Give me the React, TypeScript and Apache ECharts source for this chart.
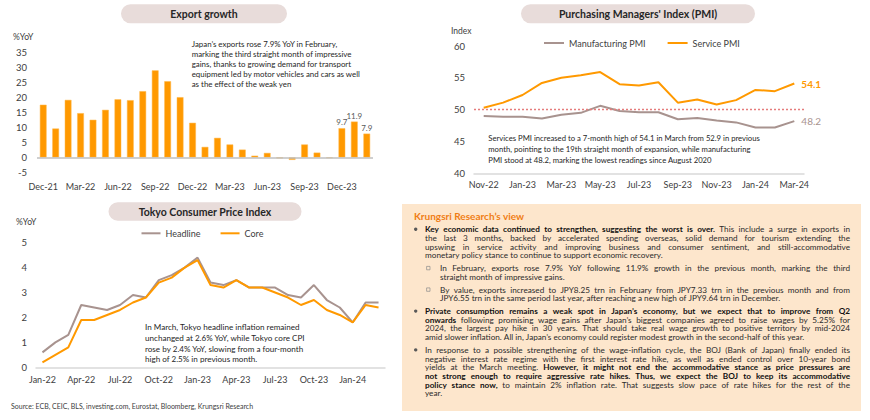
import React, { useEffect, useRef } from "react";
import * as echarts from "echarts";

const FAMILY = "Lato, 'Noto Sans', sans-serif";
const ORANGE = "#FF9900";
const TAUPE = "#A8938F";
const DARK = "#262626";
const AXIS_TXT = "#404040";
const THRESHOLD_RED = "#E57C7C";

// ---------- Export growth ----------
const exportMonths = [
  "Dec-21", "Jan-22", "Feb-22", "Mar-22", "Apr-22", "May-22", "Jun-22", "Jul-22", "Aug-22",
  "Sep-22", "Oct-22", "Nov-22", "Dec-22", "Jan-23", "Feb-23", "Mar-23", "Apr-23", "May-23",
  "Jun-23", "Jul-23", "Aug-23", "Sep-23", "Oct-23", "Nov-23", "Dec-23", "Jan-24", "Feb-24",
];
const exportGrowth = [
  17.5, 9.6, 19.1, 14.7, 12.5, 15.8, 19.3, 19.0, 22.0,
  28.9, 25.3, 20.0, 11.5, 3.5, 6.5, 4.3, 2.6, 0.6,
  1.5, -0.3, -0.8, 4.3, 1.6, -0.2, 9.7, 11.9, 7.9,
];
const exportLabelledFrom = 24;

// ---------- PMI ----------
const pmiMonths = [
  "Nov-22", "Dec-22", "Jan-23", "Feb-23", "Mar-23", "Apr-23", "May-23", "Jun-23", "Jul-23",
  "Aug-23", "Sep-23", "Oct-23", "Nov-23", "Dec-23", "Jan-24", "Feb-24", "Mar-24",
];
const manufacturingPmi = [49.0, 48.9, 48.9, 48.6, 49.2, 49.5, 50.6, 49.8, 49.6, 49.6, 48.5, 48.7, 48.3, 48.0, 47.2, 47.2, 48.2];
const servicePmi = [50.3, 51.1, 52.3, 54.2, 55.0, 55.4, 55.9, 54.0, 53.8, 54.3, 51.1, 51.6, 50.8, 51.5, 53.1, 52.9, 54.1];
const pmiThreshold = 50;

// ---------- Tokyo CPI ----------
const cpiMonths = [
  "Jan-22", "Feb-22", "Mar-22", "Apr-22", "May-22", "Jun-22", "Jul-22", "Aug-22", "Sep-22",
  "Oct-22", "Nov-22", "Dec-22", "Jan-23", "Feb-23", "Mar-23", "Apr-23", "May-23", "Jun-23",
  "Jul-23", "Aug-23", "Sep-23", "Oct-23", "Nov-23", "Dec-23", "Jan-24", "Feb-24", "Mar-24",
];
const cpiHeadline = [0.6, 1.0, 1.3, 2.5, 2.4, 2.3, 2.5, 2.9, 2.8, 3.5, 3.7, 4.0, 4.4, 3.4, 3.3, 3.5, 3.2, 3.2, 3.2, 2.9, 2.8, 3.3, 2.7, 2.4, 1.8, 2.6, 2.6];
const cpiCore = [0.2, 0.5, 0.8, 1.9, 1.9, 2.1, 2.3, 2.6, 2.8, 3.4, 3.6, 4.0, 4.3, 3.3, 3.2, 3.5, 3.2, 3.2, 3.0, 2.8, 2.5, 2.7, 2.3, 2.1, 1.8, 2.5, 2.4];

// ---------- Texts ----------
const exportNote = [
  "Japan’s exports rose 7.9% YoY in February,",
  "marking the third straight month of impressive",
  "gains, thanks to growing demand for transport",
  "equipment led by motor vehicles and cars as well",
  "as the effect of the weak yen",
];
const pmiNote = [
  "Services PMI increased to a 7-month high of 54.1 in March from 52.9 in previous",
  "month, pointing to the 19th straight month of expansion, while manufacturing",
  "PMI stood at 48.2, marking the lowest readings since August 2020",
];
const cpiNote = [
  "In March, Tokyo headline inflation remained",
  "unchanged at 2.6% YoY, while Tokyo core CPI",
  "rose by 2.4% YoY, slowing from a four-month",
  "high of 2.5% in previous month.",
];
const sourceText = "Source: ECB, CEIC, BLS, investing.com, Eurostat, Bloomberg, Krungsri Research";

type Seg = { t: string; b?: boolean };
const viewTitle = "Krungsri Research’s view";
const viewParagraphs: { level: number; lines: Seg[][] }[] = [
  {
    level: 1,
    lines: [
      [{ t: "Key economic data continued to strengthen, suggesting the worst is over.", b: true }, { t: " This include a surge in exports in" }],
      [{ t: "the last 3 months, backed by accelerated spending overseas, solid demand for tourism extending the" }],
      [{ t: "upswing in service activity and improving business and consumer sentiment, and still-accommodative" }],
      [{ t: "monetary policy stance to continue to support economic recovery." }],
    ],
  },
  {
    level: 2,
    lines: [
      [{ t: "In February, exports rose 7.9% YoY following 11.9% growth in the previous month, marking the third" }],
      [{ t: "straight month of impressive gains." }],
    ],
  },
  {
    level: 2,
    lines: [
      [{ t: "By value, exports increased to JPY8.25 trn in February from JPY7.33 trn in the previous month and from" }],
      [{ t: "JPY6.55 trn in the same period last year, after reaching a new high of JPY9.64 trn in December." }],
    ],
  },
  {
    level: 1,
    lines: [
      [{ t: "Private consumption remains a weak spot in Japan’s economy, but we expect that to improve from Q2", b: true }],
      [{ t: "onwards", b: true }, { t: " following promising wage gains after Japan’s biggest companies agreed to raise wages by 5.25% for" }],
      [{ t: "2024, the largest pay hike in 30 years. That should take real wage growth to positive territory by mid-2024" }],
      [{ t: "amid slower inflation. All in, Japan’s economy could register modest growth in the second-half of this year." }],
    ],
  },
  {
    level: 1,
    lines: [
      [{ t: "In response to a possible strengthening of the wage-inflation cycle, the BOJ (Bank of Japan) finally ended its" }],
      [{ t: "negative interest rate regime with the first interest rate hike, as well as ended control over 10-year bond" }],
      [{ t: "yields at the March meeting. " }, { t: "However, it might not end the accommodative stance as price pressures are", b: true }],
      [{ t: "not strong enough to require aggressive rate hikes. Thus, we expect the BOJ to keep its  accommodative", b: true }],
      [{ t: "policy stance now,", b: true }, { t: " to maintain 2% inflation rate. That suggests slow pace of rate hikes for the rest of the" }],
      [{ t: "year." }],
    ],
  },
];

let measureCtx: CanvasRenderingContext2D | null = null;
function measure(s: string, bold: boolean, size: number): number {
  if (!measureCtx) measureCtx = document.createElement("canvas").getContext("2d");
  if (!measureCtx) return s.length * size * 0.5;
  measureCtx.font = `${bold ? "bold " : ""}${size}px ${FAMILY}`;
  return measureCtx.measureText(s).width;
}

function txt(x: number, y: number, text: string, size: number, opts: any = {}) {
  return {
    type: "text",
    x,
    y,
    silent: true,
    style: {
      text,
      fontSize: size,
      fontFamily: FAMILY,
      fontWeight: opts.bold ? "bold" : "normal",
      fill: opts.color || DARK,
      align: opts.align || "left",
      verticalAlign: "middle",
    },
  };
}

function noteLines(x: number, y0: number, lh: number, lines: string[], size: number) {
  return lines.map((l, i) => txt(x, y0 + i * lh, l, size, { color: DARK }));
}

function pill(x: number, y: number, w: number, h: number, title: string) {
  return [
    {
      type: "rect",
      silent: true,
      shape: { x, y, width: w, height: h, r: h / 2 },
      style: { fill: "#E8DCDA" },
    },
    txt(x + w / 2, y + h / 2, title, 10.5, { bold: true, align: "center", color: DARK }),
  ];
}

function buildPanel() {
  const els: any[] = [];
  const PX = 402, PY = 204, PW = 459, PH = 207;
  els.push({ type: "rect", silent: true, shape: { x: PX, y: PY, width: PW, height: PH }, style: { fill: "#FDE6CC" } });
  els.push(txt(414, 215.7, viewTitle, 10, { bold: true, color: "#F07D14" }));
  const FS = 8.2;
  const LH = 8.65;
  const GAP = 4.2;
  const RIGHT = 850;
  let y = 229.3;
  viewParagraphs.forEach((p) => {
    const left = p.level === 1 ? 425 : 440;
    if (p.level === 1) {
      els.push({ type: "circle", silent: true, shape: { cx: 415.7, cy: y, r: 1.7 }, style: { fill: "#595959" } });
    } else {
      els.push({ type: "rect", silent: true, shape: { x: 426.6, y: y - 1.7, width: 3.4, height: 3.4 }, style: { fill: "none", stroke: "#8C8C8C", lineWidth: 0.7 } });
    }
    p.lines.forEach((line, li) => {
      const words: { w: string; b: boolean; width: number }[] = [];
      line.forEach((seg) => {
        seg.t.split(/\s+/).filter(Boolean).forEach((w) => {
          words.push({ w, b: !!seg.b, width: measure(w, !!seg.b, FS) });
        });
      });
      const sumW = words.reduce((a, b) => a + b.width, 0);
      const spaceW = measure(" ", false, FS);
      const justify = li < p.lines.length - 1;
      let gap = spaceW;
      if (words.length > 1) {
        const avail = (RIGHT - left - sumW) / (words.length - 1);
        if (justify || avail < spaceW) gap = avail;
      }
      let x = left;
      words.forEach((wd) => {
        els.push(txt(x, y, wd.w, FS, { bold: wd.b, color: wd.b ? "#111111" : "#2B2B2B" }));
        x += wd.width + gap;
      });
      y += LH;
    });
    y += GAP;
  });
  return els;
}

function buildOption(): any {
  const axisLabel = { color: AXIS_TXT, fontSize: 9, fontFamily: FAMILY };
  const yLabel = { color: AXIS_TXT, fontSize: 9.5, fontFamily: FAMILY };
  const thresholdStyle = { color: THRESHOLD_RED, type: [2, 2], width: 1.3, opacity: 1 };
  const graphic: any[] = [
    ...pill(121, 4.3, 166, 19, "Export growth"),
    ...pill(521, 4.3, 234, 19, "Purchasing Managers' Index (PMI)"),
    ...pill(108.5, 202.3, 193, 18.5, "Tokyo Consumer Price Index"),
    txt(13, 37, "%YoY", 8.5, { color: AXIS_TXT }),
    txt(451, 31, "Index", 8.5, { color: AXIS_TXT }),
    txt(16, 222.3, "%YoY", 8.5, { color: AXIS_TXT }),
    ...noteLines(191.7, 44.3, 10, exportNote, 7.9),
    ...noteLines(488.3, 137.7, 11.2, pmiNote, 7.7),
    ...noteLines(145, 326.7, 10.9, cpiNote, 8.1),
    txt(11, 405.7, sourceText, 7, { color: AXIS_TXT }),
    ...buildPanel(),
  ];

  return {
    animation: false,
    backgroundColor: "#ffffff",
    textStyle: { fontFamily: FAMILY },
    grid: [
      { left: 37, right: 497, top: 52, bottom: 247.5 },
      { left: 474, right: 66, top: 46, bottom: 246.7 },
      { left: 36, right: 485, top: 242.7, bottom: 52.7 },
    ],
    legend: [
      {
        data: ["Manufacturing PMI", "Service PMI"],
        left: 544,
        top: 38.5,
        padding: 0,
        icon: "rect",
        itemWidth: 20,
        itemHeight: 2,
        itemGap: 22,
        textStyle: { fontSize: 9, color: AXIS_TXT, fontFamily: FAMILY },
      },
      {
        data: ["Headline", "Core"],
        left: 141.5,
        top: 228.8,
        padding: 0,
        icon: "rect",
        itemWidth: 19,
        itemHeight: 2,
        itemGap: 20,
        textStyle: { fontSize: 9, color: AXIS_TXT, fontFamily: FAMILY },
      },
    ],
    xAxis: [
      {
        gridIndex: 0,
        type: "category",
        data: exportMonths,
        axisLine: { show: false, onZero: false },
        axisTick: { show: false },
        axisLabel: { ...axisLabel, interval: 2, margin: 9 },
      },
      {
        gridIndex: 1,
        type: "category",
        data: pmiMonths,
        axisLine: { lineStyle: { color: "#D9D9D9", width: 1.5 } },
        axisTick: { show: false },
        axisLabel: { ...axisLabel, interval: 1, margin: 7 },
      },
      {
        gridIndex: 2,
        type: "category",
        data: cpiMonths,
        axisLine: { lineStyle: { color: "#D9D9D9", width: 1.5 } },
        axisTick: { show: false },
        axisLabel: { ...axisLabel, interval: 2, margin: 8 },
      },
    ],
    yAxis: [
      {
        gridIndex: 0, type: "value", min: -5, max: 35, interval: 5,
        axisLine: { show: false }, axisTick: { show: false }, splitLine: { show: false },
        axisLabel: { ...yLabel, margin: 10 },
      },
      {
        gridIndex: 1, type: "value", min: 40, max: 60, interval: 5,
        axisLine: { show: false }, axisTick: { show: false }, splitLine: { show: false },
        axisLabel: { ...yLabel, margin: 9 },
      },
      {
        gridIndex: 2, type: "value", min: 0, max: 5, interval: 1,
        axisLine: { show: false }, axisTick: { show: false }, splitLine: { show: false },
        axisLabel: { ...yLabel, margin: 9 },
      },
    ],
    series: [
      {
        name: "Exports",
        type: "bar",
        xAxisIndex: 0,
        yAxisIndex: 0,
        barWidth: "54%",
        itemStyle: { color: ORANGE, borderColor: "#FFB84D", borderWidth: 0.5 },
        label: { show: false, position: "top", distance: 2, fontSize: 8, color: "#595959", fontFamily: FAMILY },
        data: exportGrowth.map((v, i) => (i >= exportLabelledFrom ? { value: v, label: { show: true } } : v)),
        markLine: {
          silent: true,
          symbol: ["none", "none"],
          label: { show: false },
          lineStyle: { color: "#BFBFBF", type: "solid", width: 1.5 },
          data: [{ yAxis: 0 }],
        },
      },
      {
        name: "Manufacturing PMI",
        type: "line",
        xAxisIndex: 1,
        yAxisIndex: 1,
        color: TAUPE,
        lineStyle: { color: TAUPE, width: 2 },
        symbol: "circle",
        symbolSize: 0.1,
        showSymbol: true,
        showAllSymbol: true,
        label: { show: false, position: "right", distance: 7, fontSize: 10, color: TAUPE, fontFamily: FAMILY },
        data: manufacturingPmi.map((v, i) => (i === manufacturingPmi.length - 1 ? { value: v, label: { show: true } } : v)),
      },
      {
        name: "Service PMI",
        type: "line",
        xAxisIndex: 1,
        yAxisIndex: 1,
        color: ORANGE,
        lineStyle: { color: ORANGE, width: 2 },
        symbol: "circle",
        symbolSize: 0.1,
        showSymbol: true,
        showAllSymbol: true,
        label: { show: false, position: "right", distance: 7, fontSize: 10, fontWeight: "bold", color: ORANGE, fontFamily: FAMILY },
        data: servicePmi.map((v, i) => (i === servicePmi.length - 1 ? { value: v, label: { show: true } } : v)),
        markLine: {
          silent: true,
          symbol: ["none", "none"],
          label: { show: false },
          itemStyle: { color: THRESHOLD_RED },
          lineStyle: thresholdStyle,
          emphasis: { disabled: true },
          data: [{ yAxis: pmiThreshold, lineStyle: thresholdStyle }],
        },
      },
      {
        name: "Headline",
        type: "line",
        xAxisIndex: 2,
        yAxisIndex: 2,
        color: TAUPE,
        lineStyle: { color: TAUPE, width: 2 },
        symbol: "none",
        data: cpiHeadline,
      },
      {
        name: "Core",
        type: "line",
        xAxisIndex: 2,
        yAxisIndex: 2,
        color: ORANGE,
        lineStyle: { color: ORANGE, width: 2 },
        symbol: "none",
        data: cpiCore,
      },
    ],
    graphic,
  };
}

export default function App() {
  const ref = useRef<HTMLDivElement>(null);
  useEffect(() => {
    if (!ref.current) return;
    const chart = echarts.init(ref.current, null, { renderer: "svg" });
    chart.setOption(buildOption());
    return () => chart.dispose();
  }, []);
  return (
    <div
      ref={ref}
      style={{ position: "fixed", left: 0, top: 0, width: 870, height: 420, background: "#ffffff" }}
    />
  );
}
